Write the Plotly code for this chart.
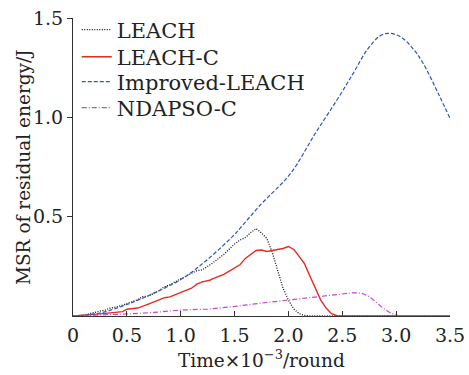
import plotly.graph_objects as go

# Time x10^-3 rounds
x_leach = [0, 0.1, 0.19, 0.3, 0.34, 0.4, 0.5, 0.6, 0.65, 0.7, 0.8, 0.84, 0.9, 1.0, 1.1, 1.15, 1.2, 1.27, 1.3, 1.4, 1.5, 1.55, 1.6, 1.65, 1.7, 1.75, 1.8, 1.85, 1.9, 1.95, 2.0, 2.05, 2.1, 2.15, 2.2, 2.5, 3.0, 3.5]
y_leach = [0, 0.004, 0.017, 0.03, 0.039, 0.045, 0.062, 0.082, 0.098, 0.1, 0.128, 0.144, 0.158, 0.188, 0.215, 0.228, 0.232, 0.257, 0.268, 0.31, 0.362, 0.382, 0.395, 0.42, 0.44, 0.418, 0.39, 0.32, 0.23, 0.14, 0.08, 0.035, 0.012, 0.003, 0, 0, 0, 0]

x_leachc = [0, 0.1, 0.2, 0.3, 0.4, 0.46, 0.5, 0.6, 0.7, 0.81, 0.85, 0.9, 1.02, 1.1, 1.15, 1.2, 1.27, 1.3, 1.4, 1.5, 1.55, 1.6, 1.66, 1.7, 1.75, 1.8, 1.85, 1.9, 1.95, 2.0, 2.05, 2.1, 2.15, 2.2, 2.25, 2.3, 2.35, 2.4, 2.45, 2.5, 3.0, 3.5]
y_leachc = [0, 0.003, 0.008, 0.013, 0.02, 0.022, 0.034, 0.04, 0.06, 0.084, 0.092, 0.096, 0.122, 0.14, 0.16, 0.172, 0.18, 0.188, 0.21, 0.245, 0.258, 0.29, 0.315, 0.33, 0.332, 0.325, 0.33, 0.335, 0.34, 0.35, 0.335, 0.3, 0.262, 0.2, 0.14, 0.08, 0.04, 0.012, 0.002, 0, 0, 0]

x_impr = [0, 0.25, 0.5, 0.75, 1.02, 1.25, 1.5, 1.55, 1.74, 2.02, 2.25, 2.45, 2.6, 2.73, 2.85, 2.93, 3.04, 3.15, 3.25, 3.4, 3.5]
y_impr = [0, 0.015, 0.058, 0.115, 0.19, 0.285, 0.41, 0.441, 0.559, 0.718, 0.92, 1.087, 1.22, 1.339, 1.41, 1.423, 1.406, 1.35, 1.272, 1.11, 0.995]

x_ndapso = [0, 0.25, 0.5, 0.75, 1.0, 1.25, 1.5, 1.75, 2.0, 2.25, 2.48, 2.6, 2.68, 2.75, 2.79, 2.85, 2.88, 2.95, 3.0, 3.05, 3.5]
y_ndapso = [0, 0.004, 0.01, 0.018, 0.03, 0.035, 0.048, 0.065, 0.08, 0.098, 0.109, 0.117, 0.115, 0.098, 0.08, 0.05, 0.039, 0.015, 0.005, 0, 0]

names = ["LEACH", "LEACH-C", "Improved-LEACH", "NDAPSO-C"]
x_ticks = [0, 0.5, 1.0, 1.5, 2.0, 2.5, 3.0, 3.5]
x_ticktext = ["0", "0.5", "1.0", "1.5", "2.0", "2.5", "3.0", "3.5"]
y_ticks = [0.5, 1.0, 1.5]
y_ticktext = ["0.5", "1.0", "1.5"]
x_title = "Time×10<sup>−3</sup>/round"
y_title = "MSR of residual energy/J"

FONT = "DejaVu Serif"

fig = go.Figure()
fig.add_trace(go.Scatter(x=x_leach, y=y_leach, name=names[0], mode="lines", legend="legend",
                         line=dict(color="#111111", width=1.3, dash="1px,1.5px")))
fig.add_trace(go.Scatter(x=x_leachc, y=y_leachc, name=names[1], mode="lines", legend="legend2",
                         line=dict(color="#e62a1e", width=1.4)))
fig.add_trace(go.Scatter(x=x_impr, y=y_impr, name=names[2], mode="lines", line_shape="spline",
                         legend="legend3",
                         line=dict(color="#3152c4", width=1.2, dash="4px,2px")))
fig.add_trace(go.Scatter(x=x_ndapso, y=y_ndapso, name=names[3], mode="lines", legend="legend4",
                         line=dict(color="#c447cc", width=1.2, dash="5px,2px,1px,2px")))

def leg(ypos):
    return dict(x=0.01, y=ypos, xanchor="left", yanchor="middle",
                bgcolor="rgba(0,0,0,0)", font=dict(size=21, family=FONT),
                itemwidth=30, tracegroupgap=0)

fig.update_layout(
    width=469, height=375,
    margin=dict(l=73, r=19, t=18, b=59, autoexpand=False),
    paper_bgcolor="white", plot_bgcolor="white",
    font=dict(family=FONT, color="#222222", size=19),
    showlegend=True,
    legend=leg(0.960), legend2=leg(0.869), legend3=leg(0.785), legend4=leg(0.698),
    xaxis=dict(range=[0, 3.5], tickvals=x_ticks, ticktext=x_ticktext, automargin=False,
               ticks="inside", ticklen=5, tickcolor="#333", showgrid=False, zeroline=False,
               showline=True, linecolor="#333", linewidth=1.2, ticklabelstandoff=2,
               tickfont=dict(size=19)),
    yaxis=dict(range=[0, 1.5], tickvals=y_ticks, ticktext=y_ticktext, automargin=False,
               ticks="outside", ticklen=5, tickcolor="#333", showgrid=False, zeroline=False,
               showline=True, linecolor="#333", linewidth=1.2,
               tickfont=dict(size=19)),
    annotations=[
        dict(text=x_title, xref="paper", yref="paper", x=0.5, y=-0.1443,
             xanchor="center", yanchor="middle", showarrow=False, font=dict(size=18.5)),
        dict(text=y_title, xref="paper", yref="paper", x=-0.1326, y=0.5, textangle=-90,
             xanchor="center", yanchor="middle", showarrow=False, font=dict(size=18.5)),
    ],
)

fig.write_html("out.html")
